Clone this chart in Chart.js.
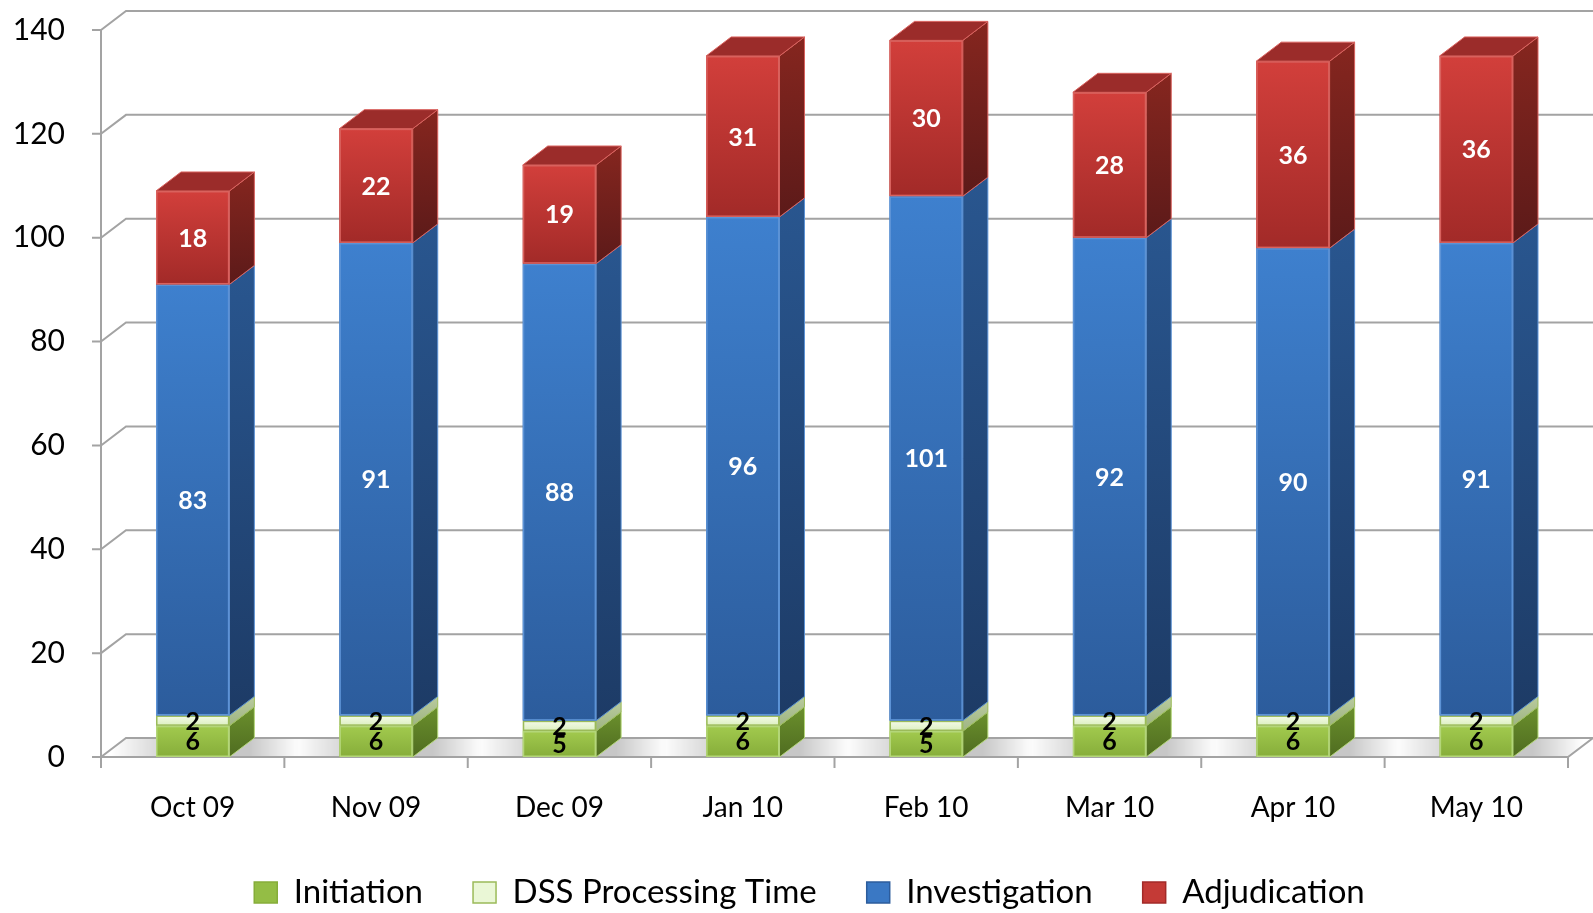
<!DOCTYPE html>
<html lang="en">
<head>
<meta charset="UTF-8">
<title>Case Processing Time by Phase</title>
<script src="https://cdn.jsdelivr.net/npm/chart.js"></script>
<style>
  html, body { margin: 0; padding: 0; background: #fff; }
  #chartBox { width: 1593px; height: 913px; }
</style>
</head>
<body>
<div id="chartBox"><canvas id="phaseChart" width="1593" height="913"></canvas></div>
<script>
const months = ['Oct 09', 'Nov 09', 'Dec 09', 'Jan 10', 'Feb 10', 'Mar 10', 'Apr 10', 'May 10'];
const initiation = [6, 6, 5, 6, 5, 6, 6, 6];
const dssProcessing = [2, 2, 2, 2, 2, 2, 2, 2];
const investigation = [83, 91, 88, 96, 101, 92, 90, 91];
const adjudication = [18, 22, 19, 31, 30, 28, 36, 36];
const yTicks = [0, 20, 40, 60, 80, 100, 120, 140];

const DX = 25, DY = -19;   // depth of the fake 3d boxes

// front gradient, side gradient, edge line, top face, label colour
const looks = [
  { fill: '#94bd45', front: ['#a2ca4e', '#86ad3a'], side: ['#6b902d', '#4f6c20'], edge: '#b4d67a', top: '#82a838', text: '#000' },
  { fill: '#eaf7d6', front: ['#f4fbe8', '#dcefc0'], side: ['#b9cb9e', '#9fb483'], edge: '#9bbb59', top: '#d2e6b4', text: '#000' },
  { fill: '#3a78c4', front: ['#3e80ce', '#2c5c9c'], side: ['#29568f', '#1d3b66'], edge: '#5d93d6', top: '#2f64a8', text: '#fff' },
  { fill: '#c43a36', front: ['#d23f3b', '#a22a28'], side: ['#86261f', '#5c1a19'], edge: '#d9625e', top: '#9b2c2a', text: '#fff' }
];

const depthPlugin = {
  id: 'depth',
  afterLayout(chart) {
    // legend sits a little left of the plot centre in the original
    chart.legend.left -= 50;
  },
  beforeDatasetsDraw(chart) {
    const { ctx, chartArea: a, scales: { x, y } } = chart;
    const x0 = a.left, x1 = a.right;
    const y0 = y.getPixelForValue(0);
    ctx.save();

    // soft shadows on the floor beside each bar
    ctx.save();
    ctx.beginPath();
    ctx.moveTo(x0, y0); ctx.lineTo(x1, y0); ctx.lineTo(x1 + DX, y0 + DY); ctx.lineTo(x0 + DX, y0 + DY);
    ctx.closePath();
    ctx.clip();
    chart.getDatasetMeta(0).data.forEach(el => {
      const { x: cx, width } = el.getProps(['x', 'width'], true);
      const r = cx + width / 2 + DX, l = cx - width / 2;
      let g = ctx.createLinearGradient(r - 5, 0, r + 45, 0);
      g.addColorStop(0, 'rgba(0,0,0,0.22)');
      g.addColorStop(1, 'rgba(0,0,0,0)');
      ctx.fillStyle = g;
      ctx.fillRect(r - 30, y0 + DY, 80, -DY);
      g = ctx.createLinearGradient(l - 45, 0, l + 10, 0);
      g.addColorStop(0, 'rgba(0,0,0,0)');
      g.addColorStop(1, 'rgba(0,0,0,0.18)');
      ctx.fillStyle = g;
      ctx.fillRect(l - 45, y0 + DY, 60, -DY);
    });
    ctx.restore();

    ctx.strokeStyle = '#a3a3a3';
    ctx.lineWidth = 2;
    yTicks.forEach(v => {
      const py = y.getPixelForValue(v);
      ctx.beginPath();
      ctx.moveTo(x0 - 9, py);
      ctx.lineTo(x0, py);
      ctx.lineTo(x0 + DX, py + DY);
      ctx.lineTo(x1 + DX, py + DY);
      ctx.stroke();
    });
    // floor front edge and right side
    ctx.beginPath();
    ctx.moveTo(x0, y0); ctx.lineTo(x1, y0); ctx.lineTo(x1 + DX, y0 + DY);
    ctx.stroke();
    // value axis
    ctx.beginPath();
    ctx.moveTo(x0, y.getPixelForValue(yTicks[yTicks.length - 1]));
    ctx.lineTo(x0, y0);
    ctx.stroke();
    // category tick marks
    const step = (x1 - x0) / months.length;
    for (let i = 0; i <= months.length; i++) {
      const px = i === 0 ? x0 : x.getPixelForValue(i - 1) + step / 2;
      ctx.beginPath();
      ctx.moveTo(px, y0); ctx.lineTo(px, y0 + 11);
      ctx.stroke();
    }
    ctx.restore();
  },
  afterDatasetsDraw(chart) {
    const { ctx } = chart;
    const n = chart.data.datasets.length;
    ctx.save();
    for (let i = 0; i < months.length; i++) {
      for (let d = 0; d < n; d++) {
        const el = chart.getDatasetMeta(d).data[i];
        const { x: cx, y: top, base, width } = el.getProps(['x', 'y', 'base', 'width'], true);
        const s = looks[d];
        const left = cx - width / 2, right = cx + width / 2;

        let g = ctx.createLinearGradient(0, top, 0, base);
        g.addColorStop(0, s.front[0]);
        g.addColorStop(1, s.front[1]);
        ctx.fillStyle = g;
        ctx.fillRect(left, top, width, base - top);
        ctx.strokeStyle = s.edge;
        ctx.lineWidth = 1.5;
        ctx.strokeRect(left + 0.75, top + 0.75, width - 1.5, base - top - 1.5);

        // side face
        g = ctx.createLinearGradient(0, top + DY, 0, base);
        g.addColorStop(0, s.side[0]);
        g.addColorStop(1, s.side[1]);
        ctx.fillStyle = g;
        ctx.beginPath();
        ctx.moveTo(right, top); ctx.lineTo(right + DX, top + DY);
        ctx.lineTo(right + DX, base + DY); ctx.lineTo(right, base);
        ctx.closePath();
        ctx.fill();
        ctx.lineWidth = 1;
        ctx.stroke();

        if (d === n - 1) {
          ctx.fillStyle = s.top;
          ctx.beginPath();
          ctx.moveTo(left, top); ctx.lineTo(left + DX, top + DY);
          ctx.lineTo(right + DX, top + DY); ctx.lineTo(right, top);
          ctx.closePath();
          ctx.fill();
          ctx.stroke();
        }
      }
    }
    // value labels
    ctx.font = 'bold 25px Lato';
    ctx.textAlign = 'center';
    ctx.textBaseline = 'middle';
    for (let d = 0; d < n; d++) {
      const meta = chart.getDatasetMeta(d);
      meta.data.forEach((el, i) => {
        const { x: cx, y: top, base } = el.getProps(['x', 'y', 'base'], true);
        ctx.fillStyle = looks[d].text;
        ctx.fillText(chart.data.datasets[d].data[i], cx, (top + base) / 2 + 1);
      });
    }
    ctx.restore();
  }
};

const series = [
  ['Initiation', initiation],
  ['DSS Processing Time', dssProcessing],
  ['Investigation', investigation],
  ['Adjudication', adjudication]
];

new Chart(document.getElementById('phaseChart'), {
  type: 'bar',
  data: {
    labels: months,
    datasets: series.map(([name, vals], idx) => ({
      label: name,
      data: vals,
      backgroundColor: looks[idx].fill,
      borderColor: idx === 1 ? '#9bbb59' : looks[idx].front[1],
      borderWidth: 1.5,
      categoryPercentage: 1,
      barPercentage: 0.4
    }))
  },
  options: {
    responsive: false,
    animation: false,
    devicePixelRatio: 1,
    layout: { padding: { left: 0, right: 25, top: 27, bottom: -6 } },
    plugins: {
      tooltip: { enabled: false },
      legend: {
        position: 'bottom',
        fullSize: false,
        labels: {
          color: '#000',
          font: { family: 'Lato', size: 33 },
          boxWidth: 23,
          boxHeight: 21,
          padding: 50
        }
      }
    },
    scales: {
      x: {
        stacked: true,
        grid: { display: false, drawTicks: false },
        border: { display: false },
        ticks: { color: '#000', padding: 34, font: { family: 'Lato', size: 28 } },
        afterFit: s => { s.height = 69; }
      },
      y: {
        stacked: true,
        min: 0,
        max: 140,
        grid: { display: false, drawTicks: true, tickLength: 24 },
        border: { display: false },
        ticks: { stepSize: 20, color: '#000', padding: 12, font: { family: 'Lato', size: 30 } },
        afterFit: s => { s.width = 101; }
      }
    }
  },
  plugins: [depthPlugin]
});
</script>
</body>
</html>
